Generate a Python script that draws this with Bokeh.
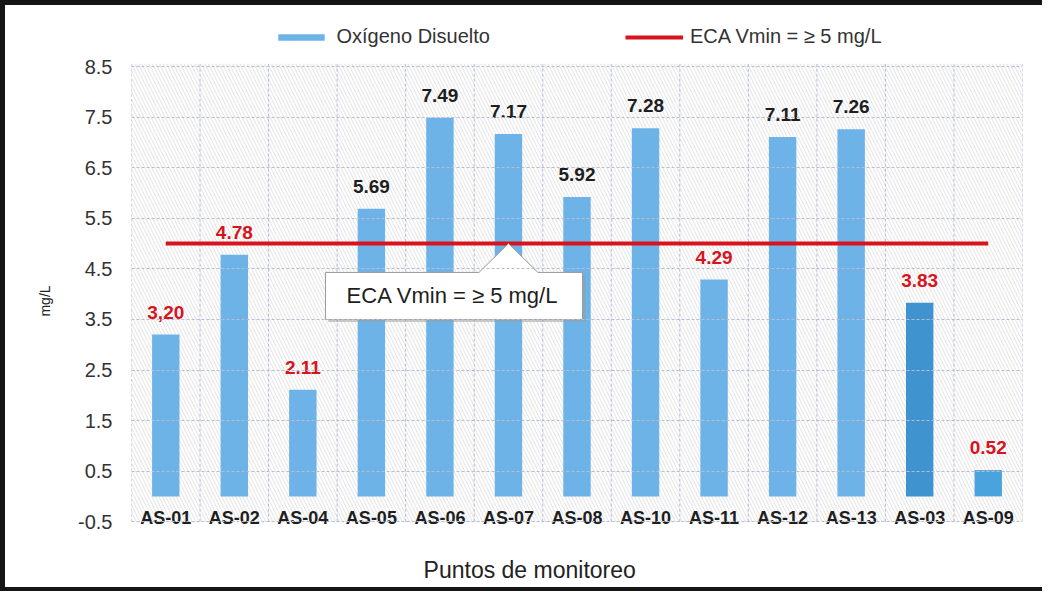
from bokeh.plotting import figure
from bokeh.models import (Range1d, FixedTicker, BoxAnnotation, Legend, LegendItem,
                          ColumnDataSource)
from bokeh.core.properties import value
from bokeh.embed import file_html
from bokeh.resources import INLINE

# ---------------- data ----------------
categories = ["AS-01", "AS-02", "AS-04", "AS-05", "AS-06", "AS-07", "AS-08",
              "AS-10", "AS-11", "AS-12", "AS-13", "AS-03", "AS-09"]
oxygen = [3.20, 4.78, 2.11, 5.69, 7.49, 7.17, 5.92, 7.28, 4.29, 7.11, 7.26, 3.83, 0.52]
value_labels = ["3,20", "4.78", "2.11", "5.69", "7.49", "7.17", "5.92",
                "7.28", "4.29", "7.11", "7.26", "3.83", "0.52"]
eca_vmin = 5.0
y_ticks = [-0.5, 0.5, 1.5, 2.5, 3.5, 4.5, 5.5, 6.5, 7.5, 8.5]
y_tick_labels = ["-0.5", "0.5", "1.5", "2.5", "3.5", "4.5", "5.5", "6.5", "7.5", "8.5"]
series_name = "Oxígeno Disuelto"
eca_name = "ECA Vmin = ≥ 5 mg/L"
x_title = "Puntos de monitoreo"
y_title = "mg/L"

# ---------------- styles ----------------
FONT = "Liberation Sans"
BAR_LIGHT = "#6DB3E8"
BAR_SPECIAL = {"AS-03": "#3F94D0", "AS-09": "#4BA3DD"}
RED = "#D7141D"
DARK = "#1E1E1E"
GRID = "#B9BDD3"
PLOT_TOP = 8.55          # top of the hatched plotting area (data units)

x = list(range(len(categories)))
bar_colors = [BAR_SPECIAL.get(c, BAR_LIGHT) for c in categories]
label_colors = [RED if v < eca_vmin else DARK for v in oxygen]

src = ColumnDataSource(dict(x=x, top=oxygen, lab=value_labels, lc=label_colors,
                            bc=bar_colors, cat=categories))

x_lo, x_hi = -0.5, len(categories) - 0.5
p = figure(width=1042, height=591, output_backend="svg", toolbar_location=None,
           x_range=Range1d(x_lo, x_hi), y_range=Range1d(-1.98, 9.71),
           min_border_left=126, min_border_right=25, min_border_top=0,
           min_border_bottom=0)
p.styles = {"border-left": "5px solid #151515", "border-top": "5px solid #151515",
            "border-bottom": "4px solid #151515"}
p.background_fill_color = "white"
p.border_fill_color = "white"
p.outline_line_color = None
p.xaxis.visible = False

# hatched plot-area background
p.add_layout(BoxAnnotation(left=x_lo, right=x_hi, bottom=y_ticks[0], top=PLOT_TOP,
                           fill_color="white", fill_alpha=1.0,
                           line_color=GRID, line_dash="2 2", line_width=1,
                           hatch_pattern="\\", hatch_color="#CDCDCD",
                           hatch_scale=7, hatch_weight=0.6, level="image"))

# grid: horizontal at ticks, vertical at category boundaries
p.ygrid.ticker = FixedTicker(ticks=y_ticks)
p.ygrid.grid_line_color = GRID
p.ygrid.grid_line_dash = "3 2"
p.ygrid.level = "glyph"
p.xgrid.visible = False
bounds = [i - 0.5 for i in range(len(categories) + 1)]
p.segment(x0=bounds, x1=bounds, y0=[y_ticks[0]] * len(bounds),
          y1=[PLOT_TOP] * len(bounds), line_color=GRID, line_dash="3 2", line_width=1)

# y axis
p.yaxis.ticker = FixedTicker(ticks=y_ticks)
p.yaxis.major_label_overrides = dict(zip(y_ticks, y_tick_labels))
p.yaxis.axis_line_color = None
p.yaxis.major_tick_line_color = None
p.yaxis.minor_tick_line_color = None
p.yaxis.major_label_text_font = FONT
p.yaxis.major_label_text_font_size = "20px"
p.yaxis.major_label_text_color = "#333333"
p.yaxis.major_label_standoff = 13
p.yaxis.axis_label = y_title
p.yaxis.axis_label_text_font = FONT
p.yaxis.axis_label_text_font_size = "14px"
p.yaxis.axis_label_text_font_style = "normal"
p.yaxis.axis_label_text_color = "#222222"
p.yaxis.axis_label_standoff = 22

# bars
bars = p.vbar(x="x", top="top", bottom=0, width=0.4, fill_color="bc",
              line_color=None, source=src)

# ECA line
eca_line = p.line(x=[x[0], x[-1]], y=[eca_vmin, eca_vmin], line_color=RED, line_width=4)

# value labels
p.text(x="x", y="top", text="lab", text_color="lc", source=src,
       text_font=value(FONT), text_font_size="19px", text_font_style="bold",
       text_align="center", text_baseline="bottom", y_offset=-16)

# category labels at the bottom of the plotting area
p.text(x="x", y=y_ticks[0], text="cat", source=src, text_color=DARK,
       text_font=value(FONT), text_font_size="18px", text_font_style="bold",
       text_align="center", text_baseline="middle", y_offset=-4)

# x-axis title
p.text(x=[5.31], y=[-1.45], text=[x_title], text_font=value(FONT),
       text_font_size="23px", text_color="#222222", text_align="center",
       text_baseline="middle")

# callout box pointing to the ECA line
anchor_x, anchor_y = 5.0, eca_vmin
box_l, box_r, box_b, box_t = 2.33, 6.08, 3.50, 4.43
ptr_half = 0.43
cx = [box_l, box_r, box_r, anchor_x + ptr_half, anchor_x, anchor_x - ptr_half, box_l]
cy = [box_b, box_b, box_t, box_t, anchor_y, box_t, box_t]
p.patch(x=[v + 0.04 for v in cx], y=[v - 0.05 for v in cy], fill_color="#9A9A9A",
        fill_alpha=0.5, line_color=None)
p.patch(x=cx, y=cy, fill_color="white", line_color="#9A9A9A", line_width=1)
p.text(x=[(box_l + box_r) / 2 - 0.02], y=[(box_b + box_t) / 2], text=[eca_name],
       text_font=value(FONT), text_font_size="22px", text_color=DARK,
       text_align="center", text_baseline="middle")

# legend (inside the top strip of the frame)
legend = Legend(items=[LegendItem(label=series_name, renderers=[bars]),
                       LegendItem(label=eca_name, renderers=[eca_line])],
                orientation="horizontal", location="top_center",
                glyph_width=58, glyph_height=8, label_standoff=7, spacing=135,
                label_text_font=FONT, label_text_font_size="20px",
                label_text_color="#333333", border_line_color=None,
                background_fill_alpha=0, padding=0, margin=20)
p.add_layout(legend)

open("out.html", "w").write(file_html(p, INLINE))
